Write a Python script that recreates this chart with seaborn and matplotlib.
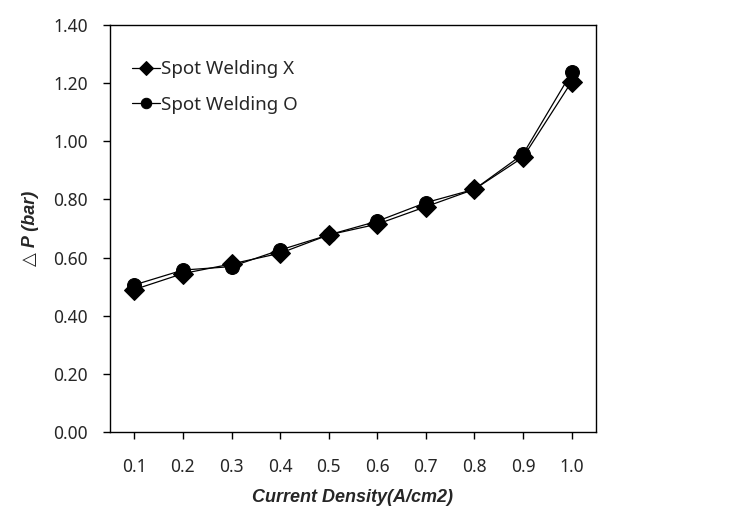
import pandas as pd
import matplotlib
matplotlib.use('Agg')
import matplotlib.pyplot as plt
import seaborn as sns

# data
CURRENT_DENSITY = ['0.1', '0.2', '0.3', '0.4', '0.5', '0.6', '0.7', '0.8', '0.9', '1.0']
DP_WELD_X = [0.49, 0.545, 0.578, 0.615, 0.678, 0.715, 0.775, 0.835, 0.945, 1.205]
DP_WELD_O = [0.506, 0.557, 0.569, 0.626, 0.678, 0.725, 0.789, 0.835, 0.956, 1.237]
SERIES = ['Spot Welding X', 'Spot Welding O']

sns.set_style('ticks')
plt.rcParams['font.family'] = ['Noto Sans', 'DejaVu Sans']

rows = []
for name, vals in zip(SERIES, [DP_WELD_X, DP_WELD_O]):
    for cd, v in zip(CURRENT_DENSITY, vals):
        rows.append({'cd': cd, 'dp': v, 'series': name})
df = pd.DataFrame(rows)

fig = plt.figure(figsize=(7.3, 5.14), dpi=100)
ax = fig.add_axes([0.1507, 0.1595, 0.6657, 0.7919])

sns.lineplot(data=df, x='cd', y='dp', hue='series', style='series',
             markers={'Spot Welding X': 'D', 'Spot Welding O': 'o'},
             dashes=False, palette=['black', 'black'], linewidth=0.9,
             markersize=10, markeredgecolor='black', ax=ax)

ax.set_xlim(-0.5, 9.5)
ax.set_ylim(0, 1.4)
ax.set_yticks([i * 0.2 for i in range(8)])
ax.set_yticklabels(['%.2f' % (i * 0.2) for i in range(8)])
ax.tick_params(labelsize=12.5, length=5, width=1, color='black')
ax.tick_params(axis='y', pad=11)
ax.tick_params(axis='x', pad=14)
for s in ax.spines.values():
    s.set_visible(True)
    s.set_linewidth(1)
    s.set_color('black')

lab_font = dict(family=['Liberation Sans', 'DejaVu Sans'], size=13,
                weight='bold', style='italic')
ax.set_xlabel('Current Density(A/cm2)', fontdict=lab_font, labelpad=9)
ax.set_ylabel('△ P (bar)', fontdict=lab_font, labelpad=10)

leg = ax.legend(loc='upper left', bbox_to_anchor=(0.01, 0.955), frameon=False,
                fontsize=13.5, handlelength=1.5, handletextpad=0.05,
                labelspacing=0.95, markerscale=0.75)

fig.savefig('out.png', dpi=100)
